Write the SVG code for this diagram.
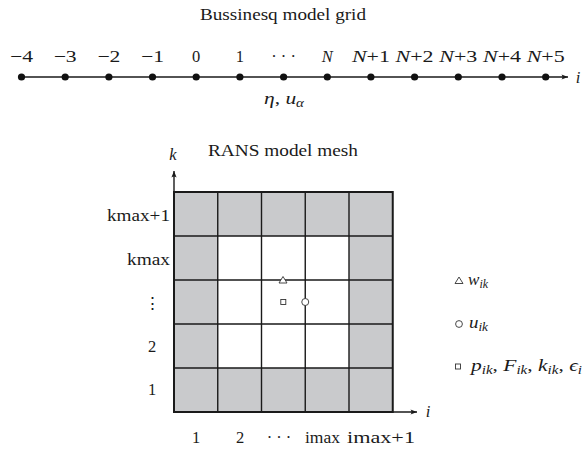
<svg xmlns="http://www.w3.org/2000/svg" width="583" height="449" viewBox="0 0 583 449">
<style>
text{font-family:"Liberation Serif","DejaVu Serif",serif;font-size:16.5px;fill:#1a1a1a}
.c{text-anchor:middle}
.r{text-anchor:end}
.it{font-style:italic}
.sub{font-size:11.5px;font-style:italic}
.dot{fill:#111}
.gl{stroke:#1a1a1a;stroke-width:1.4;fill:none}
.ax{stroke:#1a1a1a;stroke-width:1.4;fill:none;marker-end:url(#ah)}
.cell{fill:#c9cacc}
.sym{fill:#fff;stroke:#333;stroke-width:0.9}
</style>
<defs>
<marker id="ah" viewBox="-7 -3 8 6" refX="0" refY="0" markerWidth="8" markerHeight="6" markerUnits="userSpaceOnUse" orient="auto">
<path d="M0,0 L-6.5,-2.6 Q-4.5,0 -6.5,2.6 Z" fill="#1a1a1a"/>
</marker>
</defs>

<g id="title-boussinesq"><text x="283" y="20" class="c" textLength="166" lengthAdjust="spacingAndGlyphs">Bussinesq model grid</text></g>

<g id="connectors">
<line class="ax" x1="21.5" y1="77" x2="568" y2="77"/>
<line class="ax" x1="174" y1="412" x2="174" y2="171"/>
<line class="ax" x1="174" y1="412" x2="417" y2="412"/>
</g>

<g id="grid-points">
<circle class="dot" cx="21.5" cy="77" r="3.6"/>
<circle class="dot" cx="65.2" cy="77" r="3.6"/>
<circle class="dot" cx="108.9" cy="77" r="3.6"/>
<circle class="dot" cx="152.5" cy="77" r="3.6"/>
<circle class="dot" cx="196.2" cy="77" r="3.6"/>
<circle class="dot" cx="239.9" cy="77" r="3.6"/>
<circle class="dot" cx="283.6" cy="77" r="3.6"/>
<circle class="dot" cx="327.3" cy="77" r="3.6"/>
<circle class="dot" cx="370.9" cy="77" r="3.6"/>
<circle class="dot" cx="414.6" cy="77" r="3.6"/>
<circle class="dot" cx="458.3" cy="77" r="3.6"/>
<circle class="dot" cx="502" cy="77" r="3.6"/>
<circle class="dot" cx="545.7" cy="77" r="3.6"/>
</g>

<g id="grid-labels">
<text x="21.5" y="62" class="c" textLength="23" lengthAdjust="spacingAndGlyphs">−4</text>
<text x="65.2" y="62" class="c" textLength="23" lengthAdjust="spacingAndGlyphs">−3</text>
<text x="108.9" y="62" class="c" textLength="23" lengthAdjust="spacingAndGlyphs">−2</text>
<text x="152.5" y="62" class="c" textLength="23" lengthAdjust="spacingAndGlyphs">−1</text>
<text x="196.2" y="62" class="c">0</text>
<text x="239.9" y="62" class="c">1</text>
<text x="283.6" y="62" class="c">· · ·</text>
<text x="327.3" y="62" class="c it">N</text>
<text x="370.9" y="62" class="c" textLength="38" lengthAdjust="spacingAndGlyphs"><tspan class="it">N</tspan>+1</text>
<text x="414.6" y="62" class="c" textLength="38" lengthAdjust="spacingAndGlyphs"><tspan class="it">N</tspan>+2</text>
<text x="458.3" y="62" class="c" textLength="38" lengthAdjust="spacingAndGlyphs"><tspan class="it">N</tspan>+3</text>
<text x="502" y="62" class="c" textLength="38" lengthAdjust="spacingAndGlyphs"><tspan class="it">N</tspan>+4</text>
<text x="545.7" y="62" class="c" textLength="38" lengthAdjust="spacingAndGlyphs"><tspan class="it">N</tspan>+5</text>
<text x="578" y="83" class="c it">i</text>
<text x="264" y="104" textLength="40" lengthAdjust="spacingAndGlyphs"><tspan class="it">η</tspan>, <tspan class="it">u</tspan><tspan class="sub" dy="3">α</tspan></text>
</g>

<g id="title-rans"><text x="283" y="156" class="c" textLength="150" lengthAdjust="spacingAndGlyphs">RANS model mesh</text></g>

<g id="mesh">
<rect class="cell" x="174" y="192" width="218.75" height="44"/>
<rect class="cell" x="174" y="368" width="218.75" height="44"/>
<rect class="cell" x="174" y="236" width="43.75" height="132"/>
<rect class="cell" x="349" y="236" width="43.75" height="132"/>
<path class="gl" d="M217.75,192V412M261.5,192V412M305.25,192V412M349,192V412M174,236H392.75M174,280H392.75M174,324H392.75M174,368H392.75"/>
<rect x="174" y="192" width="218.75" height="220" fill="none" stroke="#1a1a1a" stroke-width="2"/>
<text x="173" y="160" class="c it">k</text>
<text x="428" y="417" class="c it">i</text>
</g>

<g id="mesh-labels">
<text x="170" y="221" class="r" textLength="63" lengthAdjust="spacingAndGlyphs">kmax+1</text>
<text x="170" y="265" class="r" textLength="43" lengthAdjust="spacingAndGlyphs">kmax</text>
<text x="152" y="309" class="c" style="font-family:'DejaVu Serif',serif;font-size:17px">⋮</text>
<text x="152" y="352" class="c">2</text>
<text x="152" y="395" class="c">1</text>
<text x="196" y="443" class="c">1</text>
<text x="240" y="443" class="c">2</text>
<text x="279" y="443" class="c">· · ·</text>
<text x="305" y="443" textLength="35" lengthAdjust="spacingAndGlyphs">imax</text>
<text x="347" y="443" textLength="68" lengthAdjust="spacingAndGlyphs">imax+1</text>
</g>

<g id="variables">
<path class="sym" d="M283,276.5 L287,283 L279,283 Z"/>
<rect class="sym" x="280.8" y="299.5" width="5" height="5"/>
<circle class="sym" cx="305.25" cy="302" r="3.5"/>
</g>

<g id="legend">
<path class="sym" d="M459,277 L463,283.5 L455,283.5 Z"/>
<text x="468" y="285" textLength="20" lengthAdjust="spacingAndGlyphs"><tspan class="it">w</tspan><tspan class="sub" dy="3">ik</tspan></text>
<circle class="sym" cx="459" cy="324" r="3.4"/>
<text x="469" y="328" textLength="19" lengthAdjust="spacingAndGlyphs"><tspan class="it">u</tspan><tspan class="sub" dy="3">ik</tspan></text>
<rect class="sym" x="455.5" y="364" width="5" height="5"/>
<text x="471" y="371" textLength="111" lengthAdjust="spacingAndGlyphs"><tspan class="it">p</tspan><tspan class="sub" dy="3">ik</tspan><tspan dy="-3">, </tspan><tspan class="it">F</tspan><tspan class="sub" dy="3">ik</tspan><tspan dy="-3">, </tspan><tspan class="it">k</tspan><tspan class="sub" dy="3">ik</tspan><tspan dy="-3">, </tspan><tspan class="it">ϵ</tspan><tspan class="sub" dy="3">i</tspan></text>
</g>
</svg>
